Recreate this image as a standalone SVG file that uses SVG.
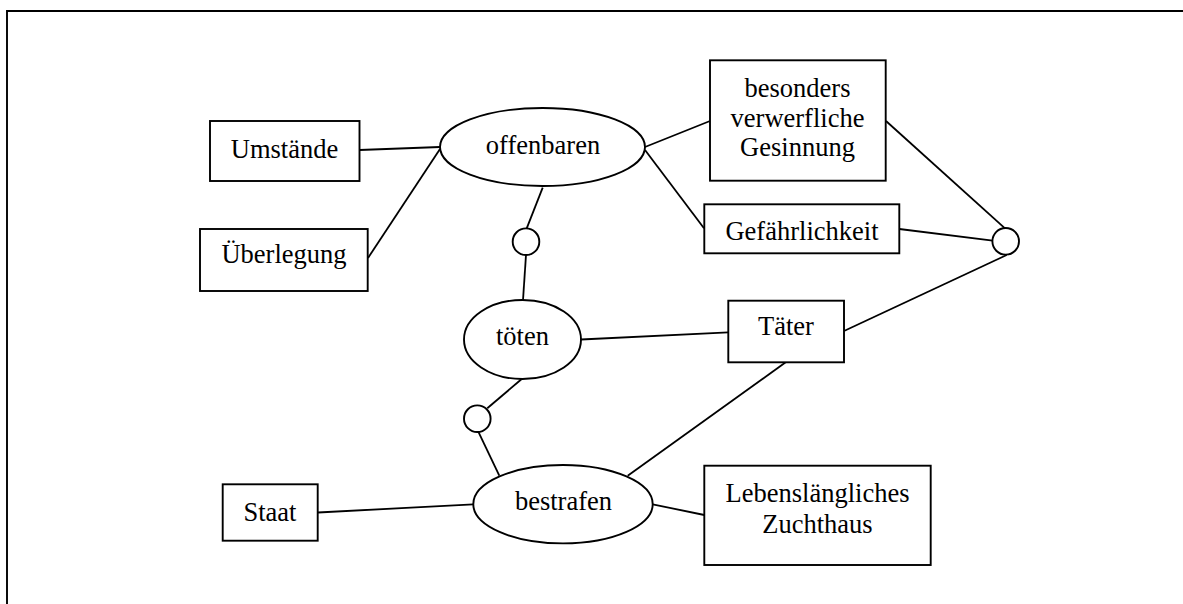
<svg xmlns="http://www.w3.org/2000/svg" width="1183" height="604" viewBox="0 0 1183 604">
<style>
.box{fill:#fff;stroke:#000;stroke-width:1.9}
.ell{fill:#fff;stroke:#000;stroke-width:1.9}
.c{fill:#fff;stroke:#000;stroke-width:1.9}
.lines line{stroke:#000;stroke-width:1.8}
text{font-family:"Liberation Serif","Times New Roman",serif;font-size:26.5px;text-anchor:middle;fill:#000}
</style>
<rect width="1183" height="604" fill="#fff"/>
<polyline points="7,604 7,11 1183,11" fill="none" stroke="#000" stroke-width="1.9"/>
<g class="lines" id="connectors">
<line x1="359.5" y1="150" x2="440" y2="147"/>
<line x1="368" y1="258" x2="440" y2="149"/>
<line x1="542.7" y1="187.7" x2="526.7" y2="228.3"/>
<line x1="526" y1="255" x2="523" y2="300"/>
<line x1="645" y1="147" x2="710" y2="121"/>
<line x1="645" y1="150" x2="704" y2="228.3"/>
<line x1="886" y1="121" x2="1005" y2="228.3"/>
<line x1="899.3" y1="229" x2="992.7" y2="240.7"/>
<line x1="844" y1="331" x2="1006.7" y2="255"/>
<line x1="581" y1="339.5" x2="728.3" y2="332.3"/>
<line x1="521.7" y1="379" x2="487.3" y2="408.3"/>
<line x1="478.3" y1="431.7" x2="499.3" y2="475.7"/>
<line x1="318" y1="512.5" x2="473.3" y2="504.3"/>
<line x1="627.7" y1="475.7" x2="785.7" y2="362.3"/>
<line x1="652.7" y1="504.3" x2="704.3" y2="515"/>
</g>
<g id="umstaende"><rect class="box" x="210" y="121" width="149.5" height="60"/><text x="284.5" y="157.5">Umstände</text></g>
<g id="ueberlegung"><rect class="box" x="200" y="229" width="167.7" height="62"/><text x="284" y="263.3">Überlegung</text></g>
<g id="offenbaren"><ellipse class="ell" cx="542.5" cy="147" rx="102.5" ry="39"/><text x="543" y="153.5">offenbaren</text></g>
<g id="gesinnung"><rect class="box" x="710" y="60.3" width="175.7" height="120.4"/><text x="797.5" y="96.7">besonders</text><text x="797.5" y="126.5">verwerfliche</text><text x="797.5" y="156.3">Gesinnung</text></g>
<g id="gefaehrlichkeit"><rect class="box" x="704.3" y="204.3" width="195" height="49"/><text x="802" y="240">Gefährlichkeit</text></g>
<g id="kreis1"><circle class="c" cx="526" cy="241.7" r="13.3"/></g>
<g id="kreis2"><circle class="c" cx="1005.7" cy="241.3" r="13.3"/></g>
<g id="kreis3"><circle class="c" cx="477.3" cy="418.7" r="13.3"/></g>
<g id="toeten"><ellipse class="ell" cx="522.5" cy="339.5" rx="58.5" ry="39.5"/><text x="522.5" y="345">töten</text></g>
<g id="taeter"><rect class="box" x="728.3" y="300.7" width="115.7" height="61.6"/><text x="786" y="335">Täter</text></g>
<g id="staat"><rect class="box" x="222.7" y="484.3" width="95" height="56.4"/><text x="270" y="520.7">Staat</text></g>
<g id="bestrafen"><ellipse class="ell" cx="563" cy="504.2" rx="89.7" ry="39.2"/><text x="563.5" y="509.5">bestrafen</text></g>
<g id="lebenslaenglich"><rect class="box" x="704.3" y="465.7" width="226.4" height="99.3"/><text x="817.5" y="501.5">Lebenslängliches</text><text x="817.5" y="532.5">Zuchthaus</text></g>
</svg>
